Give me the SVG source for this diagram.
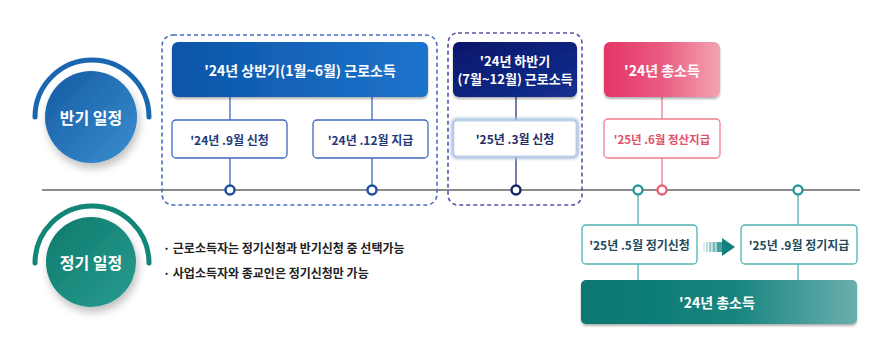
<svg xmlns="http://www.w3.org/2000/svg" width="889" height="344" viewBox="0 0 889 344">
<defs>
<style>
text{font-family:"Noto Sans CJK KR","Noto Sans",sans-serif;font-weight:700;text-anchor:middle;dominant-baseline:central}
.w{fill:#fff}
.lbl{font-size:16px;fill:#fff}
.hd{font-size:14px;fill:#fff}
.sb{font-size:12px}
.note{font-size:12px;fill:#222;text-anchor:start;font-weight:600}
.blueBox{fill:#fff;stroke:#3e68bf;stroke-width:1.3}
.pinkBox{fill:#fff;stroke:#f07d8f;stroke-width:1.3}
.tealBox{fill:#fff;stroke:#4fb2b2;stroke-width:1.3}
.dot{fill:#fff;stroke-width:2.5}
</style>
<linearGradient id="gBlue" x1="0" y1="0" x2="1" y2="0"><stop offset="0" stop-color="#0b55a8"/><stop offset="1" stop-color="#1e74cc"/></linearGradient>
<linearGradient id="gNavy" x1="0" y1="0" x2="1" y2="1"><stop offset="0" stop-color="#06166a"/><stop offset="1" stop-color="#14308f"/></linearGradient>
<linearGradient id="gPink" x1="0" y1="0" x2="1" y2="0"><stop offset="0" stop-color="#e33566"/><stop offset="0.5" stop-color="#ea5b80"/><stop offset="1" stop-color="#f3a4b2"/></linearGradient>
<linearGradient id="gTeal" x1="0" y1="0" x2="1" y2="0"><stop offset="0" stop-color="#0a7670"/><stop offset="0.55" stop-color="#16847e"/><stop offset="1" stop-color="#6aaeae"/></linearGradient>
<linearGradient id="gCircB" x1="0" y1="0" x2="1" y2="1"><stop offset="0" stop-color="#155aa3"/><stop offset="1" stop-color="#3a8fd0"/></linearGradient>
<linearGradient id="gCircT" x1="0" y1="0" x2="1" y2="1"><stop offset="0" stop-color="#0c7a6c"/><stop offset="1" stop-color="#2a9c90"/></linearGradient>
<filter id="sh" x="-30%" y="-30%" width="160%" height="170%"><feDropShadow dx="2" dy="5" stdDeviation="4" flood-color="#000" flood-opacity="0.25"/></filter>
<filter id="sh2" x="-10%" y="-20%" width="120%" height="150%"><feDropShadow dx="0" dy="2" stdDeviation="1" flood-color="#000" flood-opacity="0.3"/></filter>
<filter id="glow" x="-10%" y="-30%" width="120%" height="160%"><feGaussianBlur stdDeviation="1.5"/></filter>
</defs>

<!-- timeline -->
<g id="connectors">
<line x1="42" y1="190" x2="860" y2="190" stroke="#666" stroke-width="1.6"/>
<line x1="230" y1="97" x2="230" y2="185" stroke="#3e68bf" stroke-width="1.3"/>
<line x1="372" y1="97" x2="372" y2="185" stroke="#3e68bf" stroke-width="1.3"/>
<line x1="516" y1="97" x2="516" y2="185" stroke="#2b3a78" stroke-width="1.3"/>
<line x1="662" y1="97" x2="662" y2="185" stroke="#f07d8f" stroke-width="1.3"/>
<line x1="638" y1="195" x2="638" y2="281" stroke="#4fb2b2" stroke-width="1.3"/>
<line x1="798" y1="195" x2="798" y2="281" stroke="#4fb2b2" stroke-width="1.3"/>
</g>

<!-- dashed groups -->
<g id="group-h1"><rect x="162" y="35" width="275" height="170" rx="11" fill="none" stroke="#4a6cc0" stroke-width="1.6" stroke-dasharray="4 3"/></g>
<g id="group-h2"><rect x="448" y="33" width="134" height="172" rx="10" fill="none" stroke="#5b4fa6" stroke-width="1.6" stroke-dasharray="4 3"/></g>

<!-- left circles -->
<g id="circle-half">
<path d="M35 117 A57 57 0 0 1 149 117" fill="none" stroke="#1a66b0" stroke-width="5" stroke-linecap="round"/>
<circle cx="91" cy="117" r="46" fill="url(#gCircB)" filter="url(#sh)"/>
<text class="lbl" x="91" y="117">반기 일정</text>
</g>
<g id="circle-regular">
<path d="M35 263 A57 57 0 0 1 149 263" fill="none" stroke="#118676" stroke-width="5" stroke-linecap="round"/>
<circle cx="91" cy="262" r="45" fill="url(#gCircT)" filter="url(#sh)"/>
<text class="lbl" x="91" y="262">정기 일정</text>
</g>

<!-- half-year 1 -->
<g id="h1-head">
<rect x="172" y="42" width="256" height="55" rx="6" fill="url(#gBlue)" filter="url(#sh2)"/>
<text class="hd" x="300" y="70">'24년 상반기(1월~6월) 근로소득</text>
</g>
<g id="h1-apply">
<rect class="blueBox" x="172" y="120" width="115" height="38" rx="4"/>
<text class="sb" x="229.5" y="139" fill="#1f3a7a">'24년 .9월 신청</text>
</g>
<g id="h1-pay">
<rect class="blueBox" x="313" y="120" width="115" height="38" rx="4"/>
<text class="sb" x="370.5" y="139" fill="#1f3a7a">'24년 .12월 지급</text>
</g>

<!-- half-year 2 -->
<g id="h2-head">
<rect x="453" y="42" width="124" height="55" rx="6" fill="url(#gNavy)" filter="url(#sh2)"/>
<text class="hd" x="515" y="60" style="font-size:13px">'24년 하반기</text>
<text class="hd" x="515" y="78" style="font-size:13px">(7월~12월) 근로소득</text>
</g>
<g id="h2-apply">
<rect x="453" y="120" width="124" height="37" rx="4" fill="none" stroke="#a9c0e0" stroke-width="4" filter="url(#glow)"/>
<rect x="454" y="121" width="122" height="35" rx="3" fill="#fff" stroke="#c2d3ea" stroke-width="1"/>
<text class="sb" x="515" y="138.5" fill="#1f2f66">'25년 .3월 신청</text>
</g>

<!-- total income (pink) -->
<g id="total-head">
<rect x="604" y="42" width="116" height="55" rx="6" fill="url(#gPink)" filter="url(#sh2)"/>
<text class="hd" x="662" y="70">'24년 총소득</text>
</g>
<g id="total-pay">
<rect class="pinkBox" x="604" y="119" width="116" height="39" rx="4"/>
<text class="sb" x="662" y="138.5" fill="#e0506a" style="font-size:11.5px">'25년 .6월 정산지급</text>
</g>

<!-- timeline dots -->
<g id="dots">
<circle class="dot" cx="230" cy="190" r="4.5" stroke="#1f4fa0"/>
<circle class="dot" cx="372" cy="190" r="4.5" stroke="#1f4fa0"/>
<circle class="dot" cx="516" cy="190" r="4.5" stroke="#1b2866"/>
<circle class="dot" cx="638" cy="190" r="4.5" stroke="#2a9a9a"/>
<circle class="dot" cx="662" cy="190" r="4.5" stroke="#ea6277"/>
<circle class="dot" cx="798" cy="190" r="4.5" stroke="#2a9a9a"/>
</g>

<!-- regular -->
<g id="reg-apply">
<rect class="tealBox" x="582" y="225" width="115" height="39" rx="4"/>
<text class="sb" x="639.5" y="244.5" fill="#1f4a5a">'25년 .5월 정기신청</text>
</g>
<g id="reg-arrow">
<rect x="703" y="242" width="2" height="10" fill="#1a8a8a" opacity="0.15"/>
<rect x="706" y="242" width="2" height="10" fill="#1a8a8a" opacity="0.3"/>
<rect x="709" y="242" width="2.5" height="10" fill="#1a8a8a" opacity="0.45"/>
<rect x="712.5" y="242" width="3" height="10" fill="#1a8a8a" opacity="0.6"/>
<rect x="716.5" y="242" width="6" height="10" fill="#1a8a8a" opacity="0.8"/>
<polygon points="722,238 735,247 722,256" fill="#14807e"/>
</g>
<g id="reg-pay">
<rect class="tealBox" x="741" y="225" width="116" height="39" rx="4"/>
<text class="sb" x="799" y="244.5" fill="#1f4a5a">'25년 .9월 정기지급</text>
</g>
<g id="reg-total">
<rect x="581" y="280" width="276" height="44" rx="5" fill="url(#gTeal)" filter="url(#sh2)"/>
<text class="hd" x="717" y="302">'24년 총소득</text>
</g>

<!-- notes -->
<g id="notes">
<text class="note" x="163" y="247">· 근로소득자는 정기신청과 반기신청 중 선택가능</text>
<text class="note" x="163" y="272">· 사업소득자와 종교인은 정기신청만 가능</text>
</g>
</svg>
